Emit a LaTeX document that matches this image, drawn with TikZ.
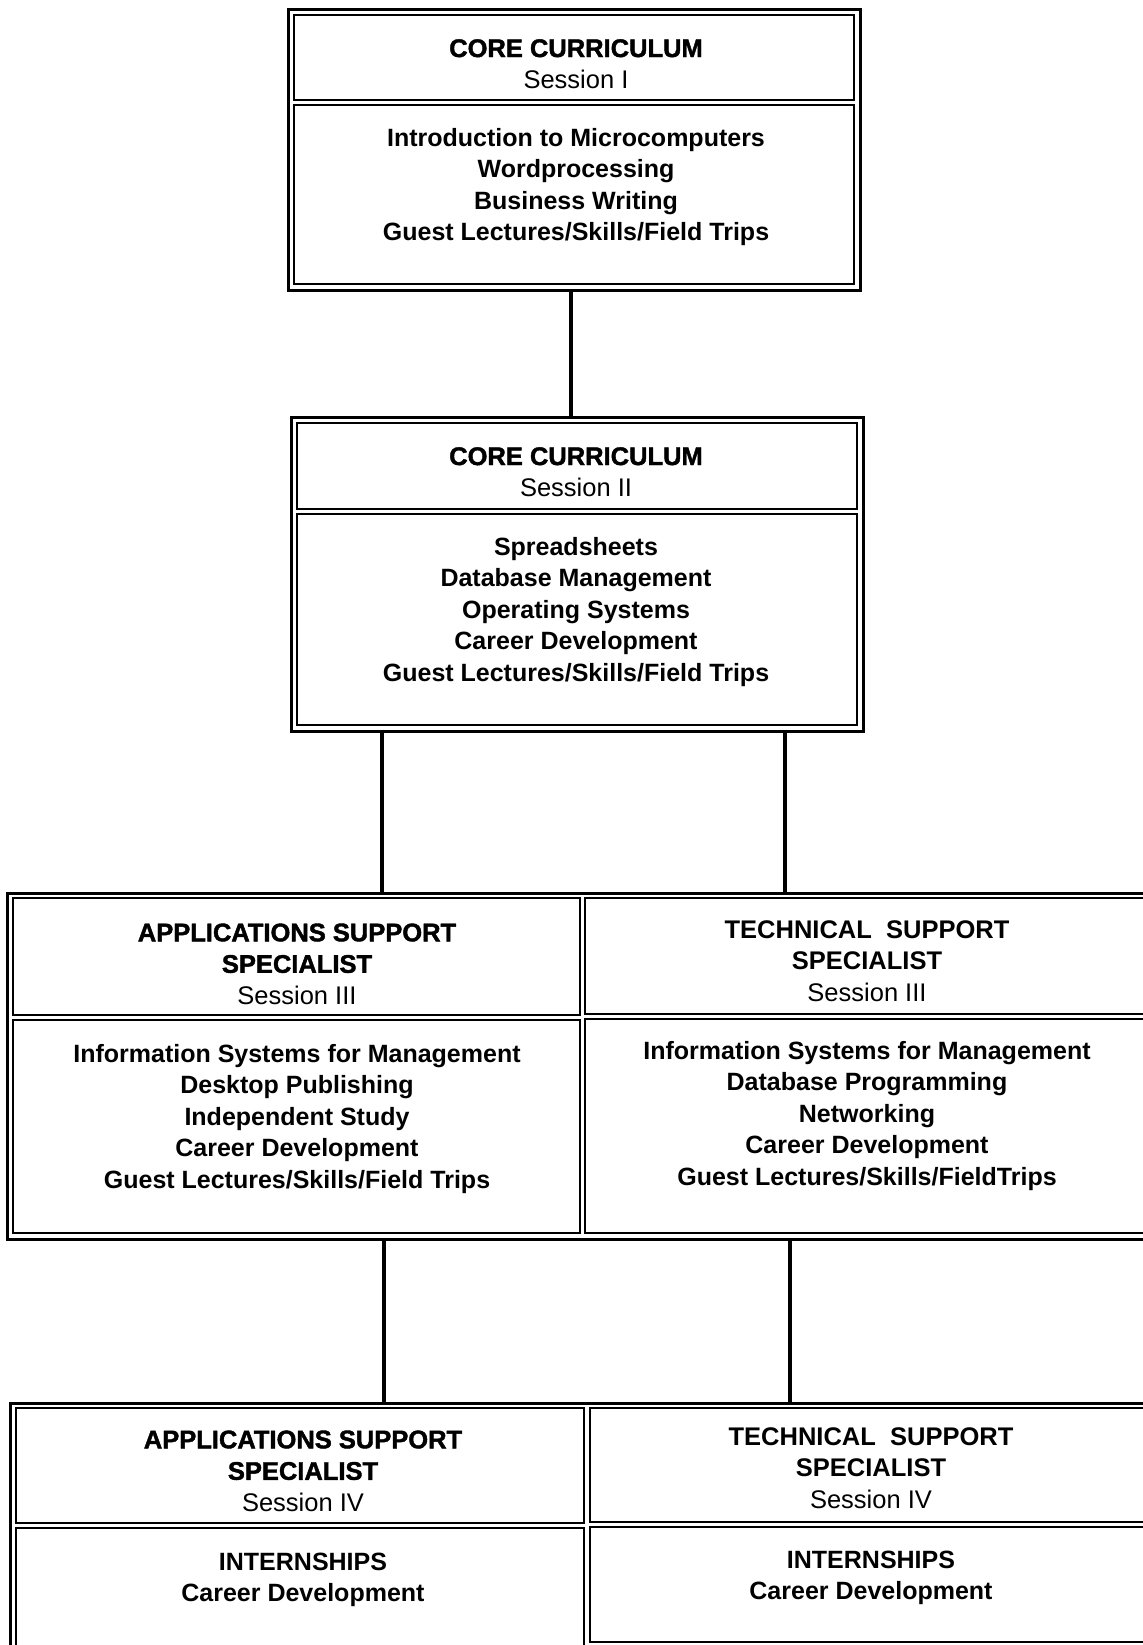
\documentclass[tikz,border=0pt]{standalone}
\usepackage{fontspec}
\setmainfont{Liberation Sans}
\newfontfamily\heavyfont[FakeBold=1.6]{Liberation Sans}
\usetikzlibrary{fit,calc}
\tikzstyle{frame}=[draw,line width=1.5pt,inner sep=0pt]
\tikzstyle{cell}=[draw,line width=1.1pt,inner sep=0pt]
\tikzstyle{link}=[draw,line width=1.7pt]
\tikzstyle{head}=[align=center,inner sep=0pt,font=\fontsize{12.75}{15.75}\selectfont]
\tikzstyle{body}=[align=center,inner sep=0pt,font=\fontsize{12.5}{15.75}\selectfont\bfseries]
\newcommand{\headtxt}[1]{{\heavyfont\bfseries #1}}
\newcommand{\medtxt}[1]{{\bfseries #1}}

\begin{document}
\begin{tikzpicture}[x=0.5pt,y=-0.5pt]
    \useasboundingbox (0,0) rectangle (1143,1645);
    \clip (0,0) rectangle (1143,1645);

    % outer frames of the sessions
    \foreach \name/\xa/\ya/\xb/\yb in {s1/288/9/860/290, s2/291/417/863/731, r3/7/893/1155/1239, r4/10/1403/1155/1665}
        \node[frame, fit={(\xa,\ya) (\xb,\yb)}] (\name) {};

    % header and body cells
    \foreach \name/\xa/\ya/\xb/\yb in {s1h/294/15/854/100, s1b/294/105/854/284,
                                       s2h/297/423/857/509, s2b/297/514/857/725,
                                       r3lh/13/898/580/1015, r3lb/13/1020/580/1233,
                                       r3rh/585/898/1149/1014, r3rb/585/1019/1149/1233,
                                       r4lh/16/1408/584/1523, r4lb/16/1528/584/1665,
                                       r4rh/590/1408/1149/1522, r4rb/590/1527/1149/1642}
        \node[cell, fit={(\xa,\ya) (\xb,\yb)}] (\name) {};

    % headings
    \foreach \name/\px/\py/\txt in {s1t/576/64/{\headtxt{CORE CURRICULUM}\\Session I},
                                   s2t/576/472/{\headtxt{CORE CURRICULUM}\\Session II},
                                   r3lt/297/964/{\headtxt{APPLICATIONS SUPPORT}\\\headtxt{SPECIALIST}\\Session III},
                                   r3rt/867/961/{\medtxt{TECHNICAL\ \ SUPPORT}\\\medtxt{SPECIALIST}\\Session III},
                                   r4lt/303/1471/{\headtxt{APPLICATIONS SUPPORT}\\\headtxt{SPECIALIST}\\Session IV},
                                   r4rt/871/1468/{\medtxt{TECHNICAL\ \ SUPPORT}\\\medtxt{SPECIALIST}\\Session IV}}
        \node[head] (\name) at (\px,\py) {\txt};

    % course lists
    \foreach \name/\px/\py/\txt in {s1x/576/187/{Introduction to Microcomputers\\Wordprocessing\\Business Writing\\Guest Lectures/Skills/Field Trips},
                                   s2x/576/612/{Spreadsheets\\Database Management\\Operating Systems\\Career Development\\Guest Lectures/Skills/Field Trips},
                                   r3lx/297/1119/{Information Systems for Management\\Desktop Publishing\\Independent Study\\Career Development\\Guest Lectures/Skills/Field Trips},
                                   r3rx/867/1116/{Information Systems for Management\\Database Programming\\Networking\\Career Development\\Guest Lectures/Skills/FieldTrips},
                                   r4lx/303/1580/{INTERNSHIPS\\Career Development},
                                   r4rx/871/1578/{INTERNSHIPS\\Career Development}}
        \node[body] (\name) at (\px,\py) {\txt};

    % connect the sessions
    \foreach \up/\down/\xx [count=\i] in {s1/s2/571, s2/r3/382, s2/r3/785, r3/r4/384, r3/r4/790} {
        \coordinate (k\i) at (\xx,0);
        \path[link] (\up.south -| k\i) -- (\down.north -| k\i);
    }
\end{tikzpicture}
\end{document}
